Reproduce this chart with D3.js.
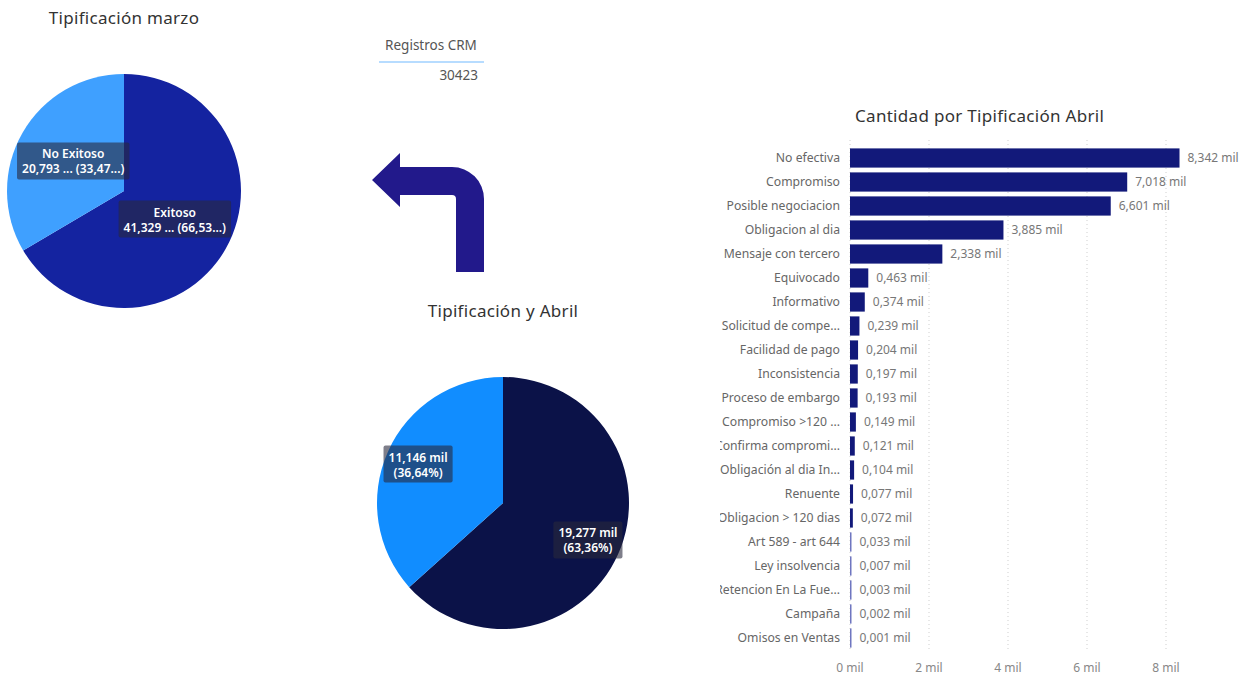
<!DOCTYPE html>
<html>
<head>
<meta charset="utf-8">
<script src="https://cdn.jsdelivr.net/npm/d3@7"></script>
<style>
  body { margin: 0; background: #fff; }
  text { font-family: "Noto Sans", "Open Sans", sans-serif; }
</style>
</head>
<body>
<div id="chart"></div>
<script>
// Pie marzo
const marzoLabels = ["Exitoso", "No Exitoso"];
const marzoValues = [41329, 20793];
const marzoText = ["41,329 ... (66,53...)", "20,793 ... (33,47...)"];

// Pie abril
const abrilValues = [19277, 11146];
const abrilText = [["19,277 mil", "(63,36%)"], ["11,146 mil", "(36,64%)"]];

// Tarjeta
const registrosCRM = 30423;

// Barras abril
const categorias = [
    "No efectiva", "Compromiso", "Posible negociacion", "Obligacion al dia",
    "Mensaje con tercero", "Equivocado", "Informativo", "Solicitud de compe...",
    "Facilidad de pago", "Inconsistencia", "Proceso de embargo", "Compromiso >120 ...",
    "Confirma compromi...", "Obligación al dia In...", "Renuente", "Obligacion > 120 dias",
    "Art 589 - art 644", "Ley insolvencia", "Retencion En La Fue...", "Campaña", "Omisos en Ventas"
];
const cantidades = [8342, 7018, 6601, 3885, 2338, 463, 374, 239, 204, 197, 193, 149, 121, 104, 77, 72, 33, 7, 3, 2, 1];
const xTicks = [0, 2000, 4000, 6000, 8000];

const width = 1250;
const height = 675;

const svg = d3.select("#chart")
    .append("svg")
    .attr("width", width)
    .attr("height", height);

const fmtMil = v => d3.format(",.3f")(v / 1000).replace(".", "#").replace(",", ".").replace("#", ",") + " mil";

// Generic pie with Power BI style labels
function drawPie(cx, cy, r, values, colors, labelR, lines) {
    const pie = d3.pie().sort(null).value(d => d);
    const arcs = pie(values);
    const arc = d3.arc().innerRadius(0).outerRadius(r);
    const labelArc = d3.arc().innerRadius(labelR).outerRadius(labelR);

    const g = svg.append("g").attr("transform", `translate(${cx},${cy})`);
    g.selectAll("path")
        .data(arcs)
        .enter().append("path")
        .attr("d", arc)
        .attr("fill", (d, i) => colors[i]);

    arcs.forEach((a, i) => {
        const [lx, ly] = labelArc.centroid(a);
        const lg = g.append("g").attr("transform", `translate(${lx},${ly})`);
        const box = lg.append("rect");
        const t = lg.append("text")
            .attr("text-anchor", "middle")
            .attr("font-size", "12px")
            .attr("font-weight", 600)
            .attr("fill", "#fff");
        lines[i].forEach((ln, j) => {
            t.append("tspan")
                .attr("x", 0)
                .attr("y", (j - (lines[i].length - 1) / 2) * 15 + 4)
                .text(ln);
        });
        const bb = t.node().getBBox();
        box.attr("x", bb.x - 5).attr("y", bb.y - 3)
            .attr("width", bb.width + 10).attr("height", bb.height + 5)
            .attr("rx", 2)
            .attr("fill", "rgba(40,40,60,0.6)");
    });
}

// Titles
function title(x, y, txt, anchor = "middle") {
    svg.append("text")
        .attr("x", x).attr("y", y)
        .attr("text-anchor", anchor)
        .attr("font-size", "17px")
        .attr("letter-spacing", "0.3px")
        .attr("fill", "#333")
        .text(txt);
}

title(124, 24, "Tipificación marzo");
drawPie(124, 191, 117, marzoValues, ["#1423a0", "#3fa0ff"], 58.5,
    marzoValues.map((v, i) => [marzoLabels[i], marzoText[i]]));

title(503, 317, "Tipificación y Abril");
drawPie(503, 503, 126, abrilValues, ["#0b1248", "#118dff"], 93, abrilText);

// Card
svg.append("text")
    .attr("x", 431).attr("y", 50)
    .attr("text-anchor", "middle")
    .attr("font-size", "13.5px")
    .attr("fill", "#555")
    .text("Registros CRM");
svg.append("line")
    .attr("x1", 379).attr("x2", 484)
    .attr("y1", 62).attr("y2", 62)
    .attr("stroke", "#9fd0ff")
    .attr("stroke-width", 1.5);
svg.append("text")
    .attr("x", 478).attr("y", 80)
    .attr("text-anchor", "end")
    .attr("font-size", "13.5px")
    .attr("fill", "#555")
    .text(registrosCRM);

// Turn-left arrow shape
const ap = d3.path();
ap.moveTo(372, 180);
ap.lineTo(400, 153);
ap.lineTo(400, 167);
ap.lineTo(452, 167);
ap.arcTo(484, 167, 484, 199, 32);
ap.lineTo(484, 272);
ap.lineTo(456, 272);
ap.lineTo(456, 199);
ap.arcTo(456, 195, 452, 195, 4);
ap.lineTo(400, 195);
ap.lineTo(400, 207);
ap.closePath();
svg.append("path")
    .attr("d", ap.toString())
    .attr("fill", "#22198b");

// Bar chart
title(855, 122, "Cantidad por Tipificación Abril", "start");

const x = d3.scaleLinear().domain([0, 8000]).range([850, 1166]);
const y = d3.scaleBand().domain(categorias).range([146, 650]).paddingInner(0.2).paddingOuter(0.1);

const grid = svg.append("g").attr("class", "grid");
grid.selectAll("line")
    .data(xTicks)
    .enter().append("line")
    .attr("x1", d => x(d)).attr("x2", d => x(d))
    .attr("y1", 140).attr("y2", 652)
    .attr("stroke", "#cfcfcf")
    .attr("stroke-dasharray", "1,3");

svg.append("g")
    .selectAll("text")
    .data(xTicks)
    .enter().append("text")
    .attr("x", d => x(d))
    .attr("y", 672)
    .attr("text-anchor", "middle")
    .attr("font-size", "12px")
    .attr("fill", "#888")
    .text(d => (d / 1000) + " mil");

svg.append("defs").append("clipPath")
    .attr("id", "labelClip")
    .append("rect")
    .attr("x", 720).attr("y", 130)
    .attr("width", 125).attr("height", 530);

svg.append("g")
    .attr("clip-path", "url(#labelClip)")
    .selectAll("text")
    .data(categorias)
    .enter().append("text")
    .attr("x", 840)
    .attr("y", d => y(d) + y.bandwidth() / 2 + 4)
    .attr("text-anchor", "end")
    .attr("font-size", "12.2px")
    .attr("fill", "#666")
    .text(d => d);

const barW = v => Math.max(x(v) - x(0), 1.5);

svg.append("g")
    .selectAll("rect")
    .data(cantidades)
    .enter().append("rect")
    .attr("x", x(0))
    .attr("y", (d, i) => y(categorias[i]))
    .attr("width", d => barW(d))
    .attr("height", y.bandwidth())
    .attr("fill", d => d < 50 ? "#6f76c0" : "#12197a");

svg.append("g")
    .selectAll("text")
    .data(cantidades)
    .enter().append("text")
    .attr("x", d => x(0) + barW(d) + 8)
    .attr("y", (d, i) => y(categorias[i]) + y.bandwidth() / 2 + 4)
    .attr("font-size", "12px")
    .attr("fill", "#777")
    .text(d => fmtMil(d));
</script>
</body>
</html>
